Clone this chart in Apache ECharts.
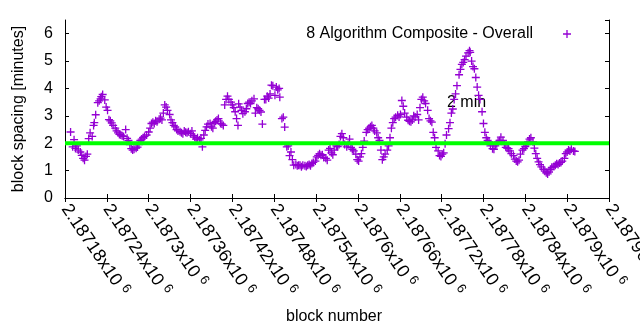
<!DOCTYPE html>
<html><head><meta charset="utf-8">
<script src="https://cdn.jsdelivr.net/npm/echarts@6/dist/echarts.min.js"></script>
<style>html,body{margin:0;padding:0;background:#fff}#c{width:640px;height:330px}</style>
</head><body><div id="c"></div>
<script>
const firstBlock = 2187180;
const blockOffsets = [8,11,13,15,17,19,22,24,26,28,30,32,34,36,39,41,42,44,47,49,51,52,54,57,59,61,63,65,67,69,72,74,76,78,80,82,84,87,89,91,93,95,97,99,102,104,106,108,110,112,114,117,120,122,124,126,128,130,132,135,137,139,141,143,145,147,150,152,154,156,158,160,162,165,167,169,171,173,175,177,180,182,184,186,188,190,193,195,197,199,201,203,205,208,210,212,214,216,218,220,223,225,227,229,231,233,235,238,240,242,244,246,248,249,251,253,255,258,260,262,264,266,268,271,273,275,277,279,281,283,286,288,290,292,294,296,298,301,303,305,307,308,311,313,315,318,320,322,324,326,328,331,333,335,337,339,341,344,346,348,350,352,354,356,359,361,363,365,367,369,371,374,376,378,380,382,384,386,389,391,393,395,397,399,401,404,406,408,410,412,414,417,419,421,423,425,427,429,432,434,436,438,440,442,444,447,449,451,453,455,457,459,462,464,466,468,470,472,474,477,479,481,483,485,487,490,492,494,496,498,500,502,505,507,509,511,513,515,517,520,522,524,526,528,530,532,535,537,539,541,543,545,547,550,552,554,556,558,560,562,565,567,569,571,573,575,578,580,581,583,585,587,589,591,593,595,598,600,602,604,606,608,610,613,615,617,619,621,623,625,628,630,632,634,636,638,640,643,645,647,649,651,653,656,658,660,662,664,666,668,671,673,675,677,679,681,683,686,688,690,692,694,696,698,701,703,705,707,709,711,713,716,718,720,722,724,726,729,731];
const spacingMinutes = [2.41,1.87,2.13,1.81,1.9,1.75,1.68,1.56,1.45,1.38,1.52,1.6,2.17,2.38,2.25,2.65,2.75,3.04,3.48,3.55,3.62,3.7,3.78,3.58,3.32,3.2,2.86,2.82,2.74,2.65,2.55,2.45,2.38,2.32,2.3,2.27,2.25,2.5,2.18,2.1,1.95,1.8,1.75,1.78,1.82,1.86,1.95,2.1,2.15,2.2,2.25,2.3,2.41,2.55,2.72,2.77,2.72,2.82,2.78,2.88,2.92,2.85,3.1,3.4,3.32,3.2,3.05,2.85,2.75,2.65,2.6,2.5,2.45,2.42,2.38,2.35,2.45,2.4,2.38,2.42,2.35,2.45,2.28,2.22,2.15,2.2,2.12,2.18,1.87,2.3,2.47,2.6,2.7,2.72,2.6,2.55,2.75,2.8,2.85,2.9,2.72,2.7,2.65,3.4,3.6,3.72,3.6,3.5,3.4,3.3,3.15,2.9,2.65,3.44,3.32,3.2,3.08,3.15,3.26,3.45,3.5,3.45,3.55,3.62,3.1,3.3,3.26,3.2,3.14,2.7,3.6,3.6,3.72,3.65,3.8,4.12,4.1,3.75,4.05,3.95,4.0,3.68,2.9,2.95,2.59,1.87,1.9,1.55,1.68,1.4,1.2,1.22,1.18,1.2,1.2,1.14,1.2,1.18,1.15,1.2,1.22,1.18,1.26,1.3,1.35,1.5,1.56,1.62,1.56,1.58,1.48,1.45,1.38,1.75,1.81,1.65,1.58,1.75,1.9,1.88,1.95,2.25,2.35,2.2,1.95,1.87,1.95,2.15,1.85,1.78,1.72,1.6,1.4,1.35,1.5,1.62,1.85,2.08,2.4,2.5,2.55,2.6,2.65,2.55,2.45,2.38,2.2,2.1,1.75,1.4,1.5,1.6,1.75,1.9,2.2,2.55,2.75,2.9,2.95,3.02,2.96,3.05,3.56,3.35,3.1,2.95,2.84,2.8,2.78,2.85,3.0,2.96,3.05,2.85,3.3,3.6,3.68,3.55,3.45,3.2,2.9,2.82,2.77,2.4,2.2,1.85,1.72,1.55,1.52,1.6,1.65,1.98,2.3,2.53,2.75,3.1,3.25,3.6,3.8,4.1,4.5,4.7,4.88,4.95,5.05,5.18,5.3,5.38,5.32,5.0,4.8,4.72,4.4,4.05,3.75,3.6,3.15,2.72,2.4,2.2,2.1,2.05,1.9,1.8,1.78,1.9,1.98,2.05,2.1,2.22,2.1,1.95,1.85,1.82,1.8,1.72,1.62,1.55,1.42,1.35,1.32,1.38,1.6,1.75,1.8,1.88,1.95,2.05,2.15,2.2,2.05,1.82,1.62,1.45,1.32,1.22,1.14,1.05,0.98,0.92,0.88,0.95,1.05,1.12,1.15,1.2,1.25,1.22,1.28,1.3,1.35,1.45,1.62,1.68,1.75,1.72,1.78,1.72,1.7];
const targetMinutes = 2;
const seriesName = '8 Algorithm Composite - Overall';
const targetLabel = '2 min';
const xMin = 2187180, xMax = 2187960, xStep = 60;
const yMin = 0, yMax = 6.5, yStep = 1;

const points = blockOffsets.map((o, i) => [firstBlock + o, spacingMinutes[i]]);
const plusPath = 'path://M3.35,0h1.3v3.35h3.35v1.3h-3.35v3.35h-1.3v-3.35h-3.35v-1.3h3.35z';
const FONT = '"Liberation Sans", Arial, sans-serif';
const purple = '#9400d3';

function fmtX(v) {
  const s = parseFloat((v / 1e6).toFixed(5)).toString();
  return '{m|' + s + 'x10}{e|6}';
}

const chart = echarts.init(document.getElementById('c'), null, {renderer: 'canvas'});
const axisCommon = {
  axisLine: {show: true, lineStyle: {color: '#000', width: 1}},
  axisTick: {show: true, inside: true, length: 4, lineStyle: {color: '#000'}},
  splitLine: {show: false}
};
chart.setOption({
  animation: false,
  backgroundColor: '#fff',
  textStyle: {fontFamily: FONT},
  grid: {left: 65, right: 31, top: 20, bottom: 132, containLabel: false, outerBoundsMode: 'none'},
  legend: {
    data: [{name: seriesName, icon: plusPath}],
    right: 64, top: 21, align: 'right',
    itemWidth: 58, itemHeight: 8,
    textStyle: {fontSize: 16, color: '#000', fontFamily: FONT},
    selectedMode: false
  },
  xAxis: [
    Object.assign({}, axisCommon, {
      type: 'value', min: xMin, max: xMax, interval: xStep, position: 'bottom',
      name: 'block number', nameLocation: 'middle', nameGap: 111,
      nameTextStyle: {fontSize: 16, color: '#000', fontFamily: FONT, padding: [0, 6, 0, 0]},
      axisLabel: {
        rotate: -56, margin: 8, color: '#000', fontSize: 18, fontFamily: FONT,
        showMinLabel: true, showMaxLabel: true, hideOverlap: false,
        formatter: fmtX,
        rich: {
          m: {fontSize: 18, color: '#000', fontFamily: FONT},
          e: {fontSize: 13, color: '#000', fontFamily: FONT, padding: [0, 0, 9, 5]}
        }
      }
    }),
    Object.assign({}, axisCommon, {
      type: 'value', min: xMin, max: xMax, interval: xStep, position: 'top',
      axisLabel: {show: false}
    })
  ],
  yAxis: [
    Object.assign({}, axisCommon, {
      type: 'value', min: yMin, max: yMax, interval: yStep, position: 'left',
      name: 'block spacing [minutes]', nameLocation: 'middle', nameGap: 38,
      nameTextStyle: {fontSize: 16, color: '#000', fontFamily: FONT},
      axisLabel: {margin: 12, color: '#000', fontSize: 16, fontFamily: FONT, showMaxLabel: false}
    }),
    Object.assign({}, axisCommon, {
      type: 'value', min: yMin, max: yMax, interval: yStep, position: 'right',
      axisLabel: {show: false}
    })
  ],
  graphic: [{
    type: 'text', left: 447, top: 95, z: 1,
    style: {text: targetLabel, fontSize: 16, fontFamily: FONT, fill: '#000'}
  }],
  series: [
    {
      name: seriesName, type: 'scatter', data: points,
      symbol: plusPath, symbolSize: 8,
      itemStyle: {color: purple, opacity: 1},
      z: 2, silent: true
    },
    {
      name: targetLabel, type: 'line',
      data: [[xMin, targetMinutes], [xMax, targetMinutes]],
      symbol: 'none', lineStyle: {color: '#00ff00', width: 4},
      z: 3, silent: true
    }
  ]
});
</script>
</body></html>
